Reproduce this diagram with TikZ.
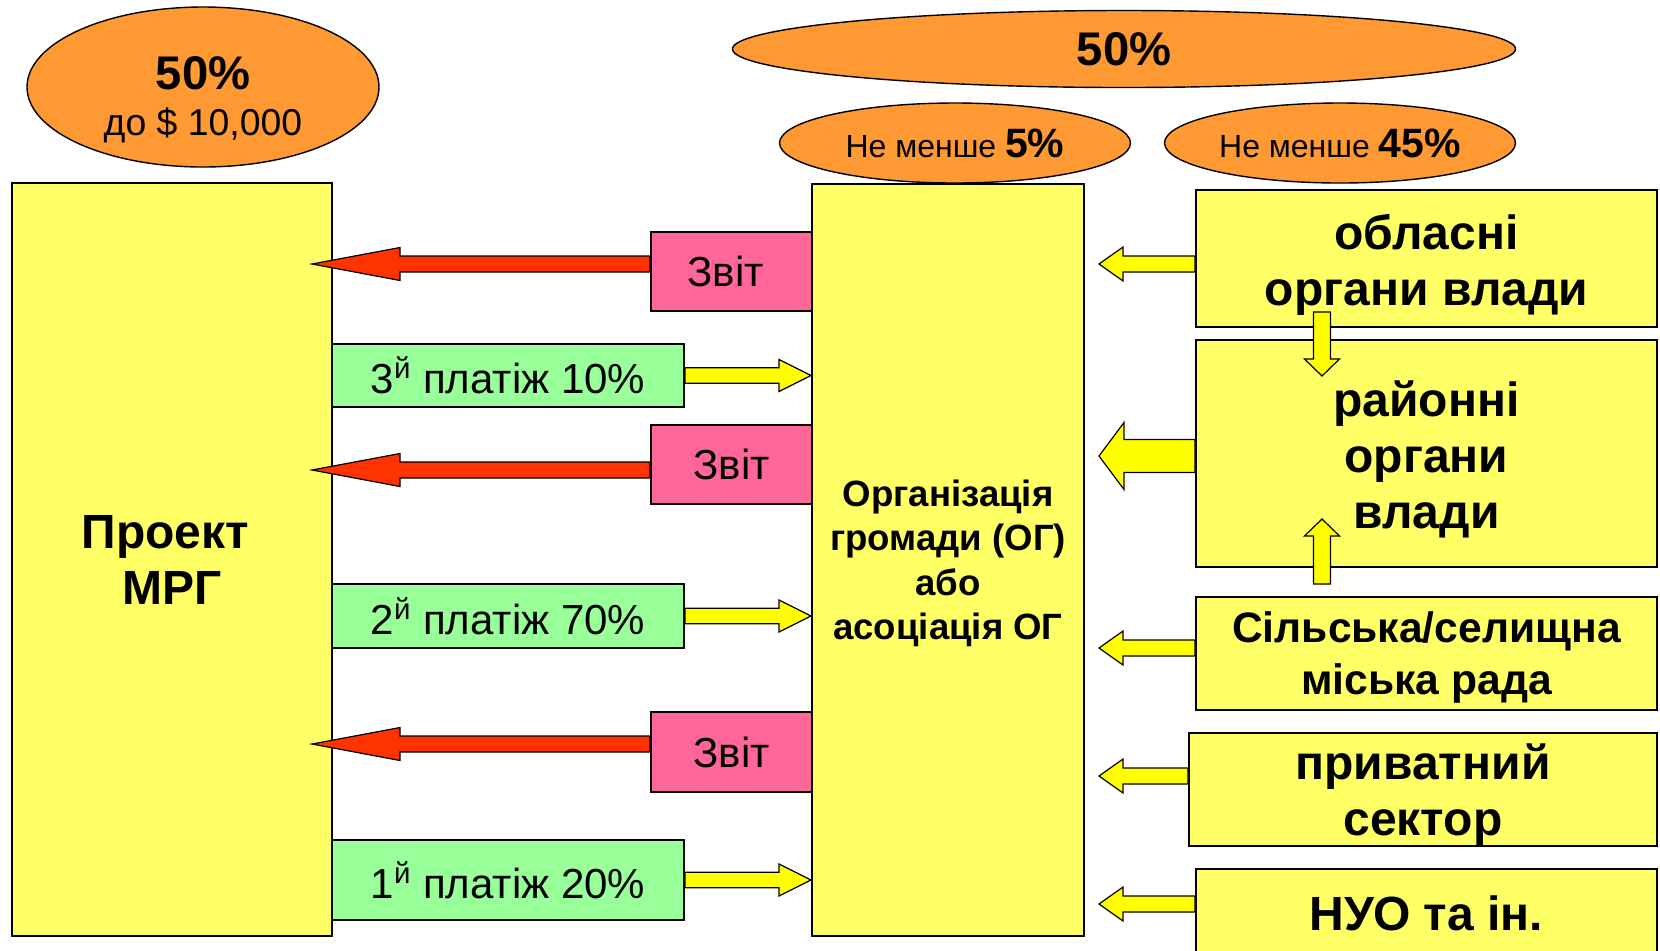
\documentclass[tikz,border=0pt]{standalone}
\usepackage{fontspec}
\setmainfont{Liberation Sans}
\usetikzlibrary{calc,shapes.geometric}

\definecolor{ovalorange}{HTML}{FF9933}
\definecolor{boxyellow}{HTML}{FFFF66}
\definecolor{zvitpink}{HTML}{FF6699}
\definecolor{paygreen}{HTML}{99FF99}
\definecolor{arrred}{HTML}{FF3300}
\definecolor{arryellow}{HTML}{FFFF00}

% block arrow: style, from, to, half shaft, half head, head length
\newcommand{\fatarrow}[6]{%
  \coordinate (fa-s) at (#2);
  \coordinate (fa-t) at (#3);
  \coordinate (fa-b) at ($(fa-t)!#6!(fa-s)$);
  \draw[#1] ($(fa-s)!#4!90:(fa-t)$) -- ($(fa-b)!#4!90:(fa-t)$)
    -- ($(fa-b)!#5!90:(fa-t)$) -- (fa-t) -- ($(fa-b)!#5!-90:(fa-t)$)
    -- ($(fa-b)!#4!-90:(fa-t)$) -- ($(fa-s)!#4!-90:(fa-t)$) -- cycle;
}
% taller first line, to push the text down a little
\newcommand{\tallstrut}[1]{\rule{0pt}{#1}}

\begin{document}
\begin{tikzpicture}
[
  x=0.5pt, y=-0.5pt,
  oval/.style={ellipse, draw, fill=ovalorange, line width=0.7pt, inner sep=0pt},
  ybox/.style={rectangle, draw, fill=boxyellow, line width=1pt, inner sep=0pt,
    align=center, font=\bfseries\fontsize{24}{28}\selectfont},
  zvit/.style={rectangle, draw, fill=zvitpink, line width=1pt, inner sep=0pt,
    minimum width=80.5pt, minimum height=39.5pt, font=\fontsize{21}{25}\selectfont},
  pay/.style={rectangle, draw, fill=paygreen, line width=1pt, inner sep=0pt,
    minimum width=176pt, font=\fontsize{21}{25}\selectfont},
  redarr/.style={draw=black, fill=arrred, line width=0.6pt},
  yelarr/.style={draw=black, fill=arryellow, line width=0.6pt}
]

\useasboundingbox (0,0) rectangle (1660,950);
\clip (0,0) rectangle (1660,950);
\fill[white] (0,0) rectangle (1660,950);

% shares
\node[oval, minimum width=176pt, minimum height=80pt] (fundL) at (203,87) {};
\node[align=center, font=\fontsize{18.7}{23}\selectfont] (fundLtxt) at (203,100)
  {{\bfseries\fontsize{23.6}{23}\selectfont 50\%}\\до \$ 10,000};
\node[oval, minimum width=391.5pt, minimum height=38.5pt,
  font=\bfseries\fontsize{23.6}{27}\selectfont] (fundR) at (1124,49) {50\%};
\node[oval, minimum width=175.5pt, minimum height=40pt,
  font=\fontsize{16}{19}\selectfont] (min5) at (955,143)
  {Не менше {\bfseries\fontsize{20.5}{24}\selectfont 5\%}};
\node[oval, minimum width=175.5pt, minimum height=40pt,
  font=\fontsize{16}{19}\selectfont] (min45) at (1340,143)
  {Не менше {\bfseries\fontsize{20.5}{24}\selectfont 45\%}};

% main blocks
\node[ybox, minimum width=160pt, minimum height=376.5pt] (prj) at (172,559.5)
  {Проект\hspace*{.28em}\\МРГ};
\node[ybox, minimum width=136pt, minimum height=376pt,
  font=\bfseries\fontsize{18.3}{22.2}\selectfont] (og) at (948,560)
  {\tallstrut{16.7pt}Організація\\громади (ОГ)\\або\\асоціація ОГ};

% reports and payments
\node[zvit] (zv1) at (731.5,271.5) {Звіт\hspace*{.28em}};
\node[zvit] (zv2) at (731.5,464.5) {Звіт};
\node[zvit, minimum height=40pt] (zv3) at (731.5,752) {Звіт};

\node[pay, minimum height=31.5pt] (pay3) at (508,375.5) {3\textsuperscript{й} платіж 10\%};
\node[pay, minimum height=32pt] (pay2) at (508,616) {2\textsuperscript{й} платіж 70\%};
\node[pay, minimum height=40pt] (pay1) at (508,880) {1\textsuperscript{й} платіж 20\%};

% co-funders
\node[ybox, minimum width=230.5pt, minimum height=68.5pt] (obl)
  at (1426.5,258.5) {\tallstrut{24.4pt}обласні\\органи влади};
\node[ybox, minimum width=230.5pt, minimum height=113.5pt] (ray)
  at (1426.5,453.5) {\tallstrut{24pt}районні\\органи\\влади};
\node[ybox, minimum width=230.5pt, minimum height=56.5pt,
  font=\bfseries\fontsize{21.3}{26}\selectfont] (rada)
  at (1426.5,653.5) {\tallstrut{19.3pt}Сільська/селищна\\міська рада};
\node[ybox, minimum width=234pt, minimum height=56.5pt] (priv)
  at (1423,789.5) {\tallstrut{23pt}приватний\\сектор};
\node[ybox, minimum width=230.5pt, minimum height=44pt] (nuo)
  at (1426.5,913) {НУО та ін.};

% arrow ends
\coordinate (rt1) at (312,264);
\coordinate (rt2) at (312,470);
\coordinate (rt3) at (312,744);
\coordinate (ot1) at (1099,264);
\coordinate (ot2) at (1099,456);
\coordinate (ot3) at (1099,648);
\coordinate (ot4) at (1099,776);
\coordinate (ot5) at (1099,904);
\coordinate (dn-s) at (1322,312);
\coordinate (dn-t) at (1322,376);
\coordinate (up-s) at (1322,584);
\coordinate (up-t) at (1322,519);

\fatarrow{redarr}{zv1.west |- rt1}{rt1}{4pt}{8.25pt}{44pt}
\fatarrow{redarr}{zv2.west |- rt2}{rt2}{4pt}{8.25pt}{44pt}
\fatarrow{redarr}{zv3.west |- rt3}{rt3}{4pt}{8.25pt}{44pt}

\fatarrow{yelarr}{pay3.east}{og.west |- pay3.east}{3.9pt}{8pt}{16pt}
\fatarrow{yelarr}{pay2.east}{og.west |- pay2.east}{3.9pt}{8pt}{16pt}
\fatarrow{yelarr}{pay1.east}{og.west |- pay1.east}{3.9pt}{8pt}{16pt}

\fatarrow{yelarr}{obl.west |- ot1}{ot1}{4pt}{8.5pt}{12pt}
\fatarrow{yelarr}{ray.west |- ot2}{ot2}{8.25pt}{16.75pt}{12.5pt}
\fatarrow{yelarr}{rada.west |- ot3}{ot3}{4pt}{8.5pt}{12pt}
\fatarrow{yelarr}{priv.west |- ot4}{ot4}{4pt}{8.5pt}{12pt}
\fatarrow{yelarr}{nuo.west |- ot5}{ot5}{4pt}{8.5pt}{12pt}

\fatarrow{yelarr}{dn-s}{dn-t}{4.25pt}{8.75pt}{8.5pt}
\fatarrow{yelarr}{up-s}{up-t}{4.25pt}{8.75pt}{8.5pt}

\end{tikzpicture}
\end{document}
